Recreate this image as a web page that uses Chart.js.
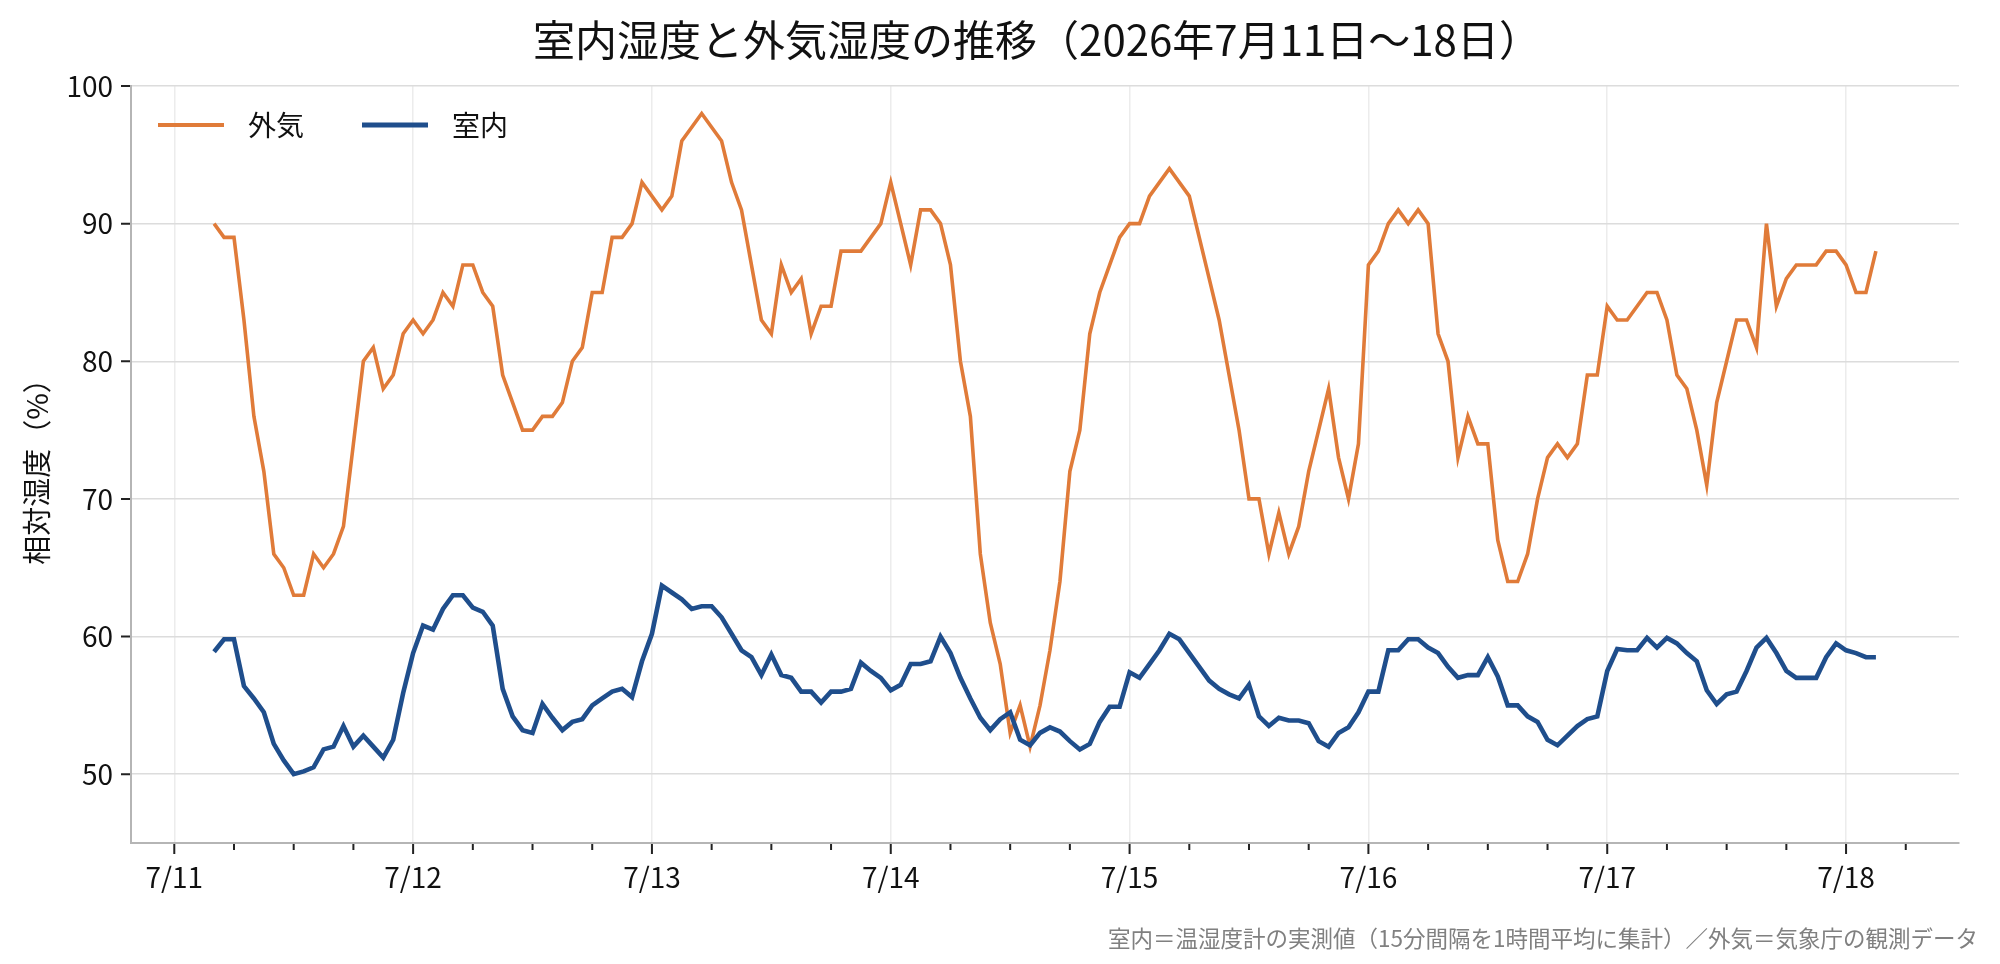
<!DOCTYPE html>
<html lang="ja">
<head>
<meta charset="utf-8">
<title>室内湿度と外気湿度の推移</title>
<script src="https://cdn.jsdelivr.net/npm/chart.js@4.4.1/dist/chart.umd.min.js"></script>
<style>
  html, body { margin: 0; padding: 0; background: #fff; }
  #wrap { width: 2000px; height: 964px; }
</style>
</head>
<body>
<div id="wrap"><canvas id="humidChart" width="2000" height="964"></canvas></div>
<script>
// hourly readings, first one at 7/11 04:00 (hours counted from 7/11 00:00)
const startHour = 4;

const outdoor = [
  90, 89, 89, 83, 76, 72, 66, 65, 63, 63, 66, 65, 66, 68, 74, 80, 81, 78, 79, 82,
  83, 82, 83, 85, 84, 87, 87, 85, 84, 79, 77, 75, 75, 76, 76, 77, 80, 81, 85, 85, 89, 89, 90, 93,
  92, 91, 92, 96, 97, 98, 97, 96, 93, 91, 87, 83, 82, 87, 85, 86, 82, 84, 84, 88, 88, 88, 89, 90,
  93, 90, 87, 91, 91, 90, 87, 80, 76, 66, 61, 58, 53, 55, 52, 55, 59, 64, 72, 75, 82, 85, 87, 89,
  90, 90, 92, 93, 94, 93, 92, 89, 86, 83, 79, 75, 70, 70, 66, 69, 66, 68, 72, 75, 78, 73, 70, 74,
  87, 88, 90, 91, 90, 91, 90, 82, 80, 73, 76, 74, 74, 67, 64, 64, 66, 70, 73, 74, 73, 74, 79, 79,
  84, 83, 83, 84, 85, 85, 83, 79, 78, 75, 71, 77, 80, 83, 83, 81, 90, 84, 86, 87, 87, 87, 88, 88,
  87, 85, 85, 88
];

const indoor = [
  58.9, 59.8, 59.8, 56.4, 55.5, 54.5, 52.2, 51.0, 50.0, 50.2, 50.5, 51.8, 52.0, 53.5, 52.0, 52.8, 52.0, 51.2, 52.5, 55.9,
  58.8, 60.8, 60.5, 62.0, 63.0, 63.0, 62.1, 61.8, 60.8, 56.2, 54.2, 53.2, 53.0, 55.1, 54.1, 53.2, 53.8, 54.0, 55.0, 55.5, 56.0, 56.2, 55.6, 58.2,
  60.2, 63.7, 63.2, 62.7, 62.0, 62.2, 62.2, 61.4, 60.2, 59.0, 58.5, 57.2, 58.7, 57.2, 57.0, 56.0, 56.0, 55.2, 56.0, 56.0, 56.2, 58.1, 57.5, 57.0,
  56.1, 56.5, 58.0, 58.0, 58.2, 60.0, 58.8, 57.0, 55.5, 54.1, 53.2, 54.0, 54.5, 52.5, 52.1, 53.0, 53.4, 53.1, 52.4, 51.8, 52.2, 53.8, 54.9, 54.9,
  57.4, 57.0, 58.0, 59.0, 60.2, 59.8, 58.8, 57.8, 56.8, 56.2, 55.8, 55.5, 56.5, 54.2, 53.5, 54.1, 53.9, 53.9, 53.7, 52.4, 52.0, 53.0, 53.4, 54.5,
  56.0, 56.0, 59.0, 59.0, 59.8, 59.8, 59.2, 58.8, 57.8, 57.0, 57.2, 57.2, 58.5, 57.1, 55.0, 55.0, 54.2, 53.8, 52.5, 52.1, 52.8, 53.5, 54.0, 54.2,
  57.5, 59.1, 59.0, 59.0, 59.9, 59.2, 59.9, 59.5, 58.8, 58.2, 56.1, 55.1, 55.8, 56.0, 57.5, 59.2, 59.9, 58.8, 57.5, 57.0, 57.0, 57.0, 58.5, 59.5,
  59.0, 58.8, 58.5, 58.5
];

const dayLabels = ['7/11', '7/12', '7/13', '7/14', '7/15', '7/16', '7/17', '7/18'];
const yTicks = [50, 60, 70, 80, 90, 100];

const titleText = '室内湿度と外気湿度の推移（2026年7月11日～18日）';
const footnote = '室内＝温湿度計の実測値（15分間隔を1時間平均に集計）／外気＝気象庁の観測データ';

const FONT = '"Noto Sans CJK JP", "Noto Sans", sans-serif';
Chart.defaults.font.family = FONT;
Chart.defaults.color = '#111';

const toPoints = arr => arr.map((v, i) => ({x: startHour + i, y: v}));
const lastHour = startHour + outdoor.length - 1;
const margin = (lastHour - startHour) * 0.05;

// title, legend inside the plot, tick marks and footnote
const extras = {
  id: 'extras',
  afterDraw(chart) {
    const {ctx, chartArea: a, scales: {x, y}} = chart;
    ctx.save();

    ctx.strokeStyle = '#222';
    ctx.lineWidth = 2;
    ctx.beginPath();
    for (let h = 0; h <= x.max; h += 6) {
      const px = x.getPixelForValue(h);
      const len = h % 24 === 0 ? 10 : 6;
      ctx.moveTo(px, a.bottom + 1);
      ctx.lineTo(px, a.bottom + 1 + len);
    }
    yTicks.forEach(v => {
      const py = y.getPixelForValue(v);
      ctx.moveTo(a.left - 1, py);
      ctx.lineTo(a.left - 10, py);
    });
    ctx.stroke();

    ctx.fillStyle = '#111';
    ctx.font = '42px ' + FONT;
    ctx.textAlign = 'center';
    ctx.textBaseline = 'middle';
    ctx.fillText(titleText, (a.left + a.right) / 2 - 8, 40);

    // legend
    ctx.font = '28px ' + FONT;
    ctx.textAlign = 'left';
    let lx = a.left + 27;
    const ly = 125;
    [chart.data.datasets[0], chart.data.datasets[1]].forEach(ds => {
      ctx.strokeStyle = ds.borderColor;
      ctx.lineWidth = ds.borderWidth + 0.5;
      ctx.beginPath();
      ctx.moveTo(lx, ly);
      ctx.lineTo(lx + 66, ly);
      ctx.stroke();
      ctx.fillStyle = '#111';
      ctx.fillText(ds.label, lx + 90, ly);
      lx += 90 + ctx.measureText(ds.label).width + 58;
    });

    ctx.fillStyle = '#808080';
    ctx.font = '22.5px ' + FONT;
    ctx.textAlign = 'right';
    ctx.fillText(footnote, 1978, 938);

    ctx.restore();
  }
};

new Chart(document.getElementById('humidChart'), {
  type: 'line',
  data: {
    datasets: [
      {
        label: '外気',
        data: toPoints(outdoor),
        borderColor: '#e07b39',
        borderWidth: 3.6,
        pointRadius: 0,
        tension: 0,
        order: 2
      },
      {
        label: '室内',
        data: toPoints(indoor),
        borderColor: '#1f4e8c',
        borderWidth: 4.6,
        pointRadius: 0,
        tension: 0,
        order: 1
      }
    ]
  },
  options: {
    responsive: false,
    animation: false,
    devicePixelRatio: 1,
    layout: { padding: { left: 0, top: 86, right: 41, bottom: 0 } },
    plugins: {
      legend: { display: false },
      title: { display: false },
      tooltip: { enabled: false }
    },
    scales: {
      x: {
        type: 'linear',
        min: startHour - margin,
        max: lastHour + margin,
        afterFit: s => { s.height = 121; },
        afterBuildTicks: s => {
          const t = [];
          for (let h = 0; h <= s.max; h += 6) t.push({value: h});
          s.ticks = t;
        },
        ticks: {
          autoSkip: false,
          maxRotation: 0,
          padding: 18,
          font: { size: 28 },
          color: '#111',
          callback: v => (v % 24 === 0 ? dayLabels[v / 24] : '')
        },
        grid: {
          drawTicks: false,
          lineWidth: 1.5,
          color: c => (c.tick && c.tick.value % 24 === 0 ? '#ececec' : 'rgba(0,0,0,0)')
        },
        border: { color: '#b5b5b5', width: 2 }
      },
      y: {
        min: 45,
        max: 100,
        afterFit: s => { s.width = 131; },
        afterBuildTicks: s => { s.ticks = yTicks.map(v => ({value: v})); },
        ticks: {
          padding: 18,
          font: { size: 28 },
          color: '#111'
        },
        grid: {
          drawTicks: false,
          lineWidth: 1.5,
          color: '#dcdcdc'
        },
        border: { color: '#b5b5b5', width: 2 },
        title: {
          display: true,
          text: '相対湿度（%）',
          font: { size: 29 },
          color: '#111',
          padding: { top: 20, bottom: 0 }
        }
      }
    }
  },
  plugins: [extras]
});
</script>
</body>
</html>
